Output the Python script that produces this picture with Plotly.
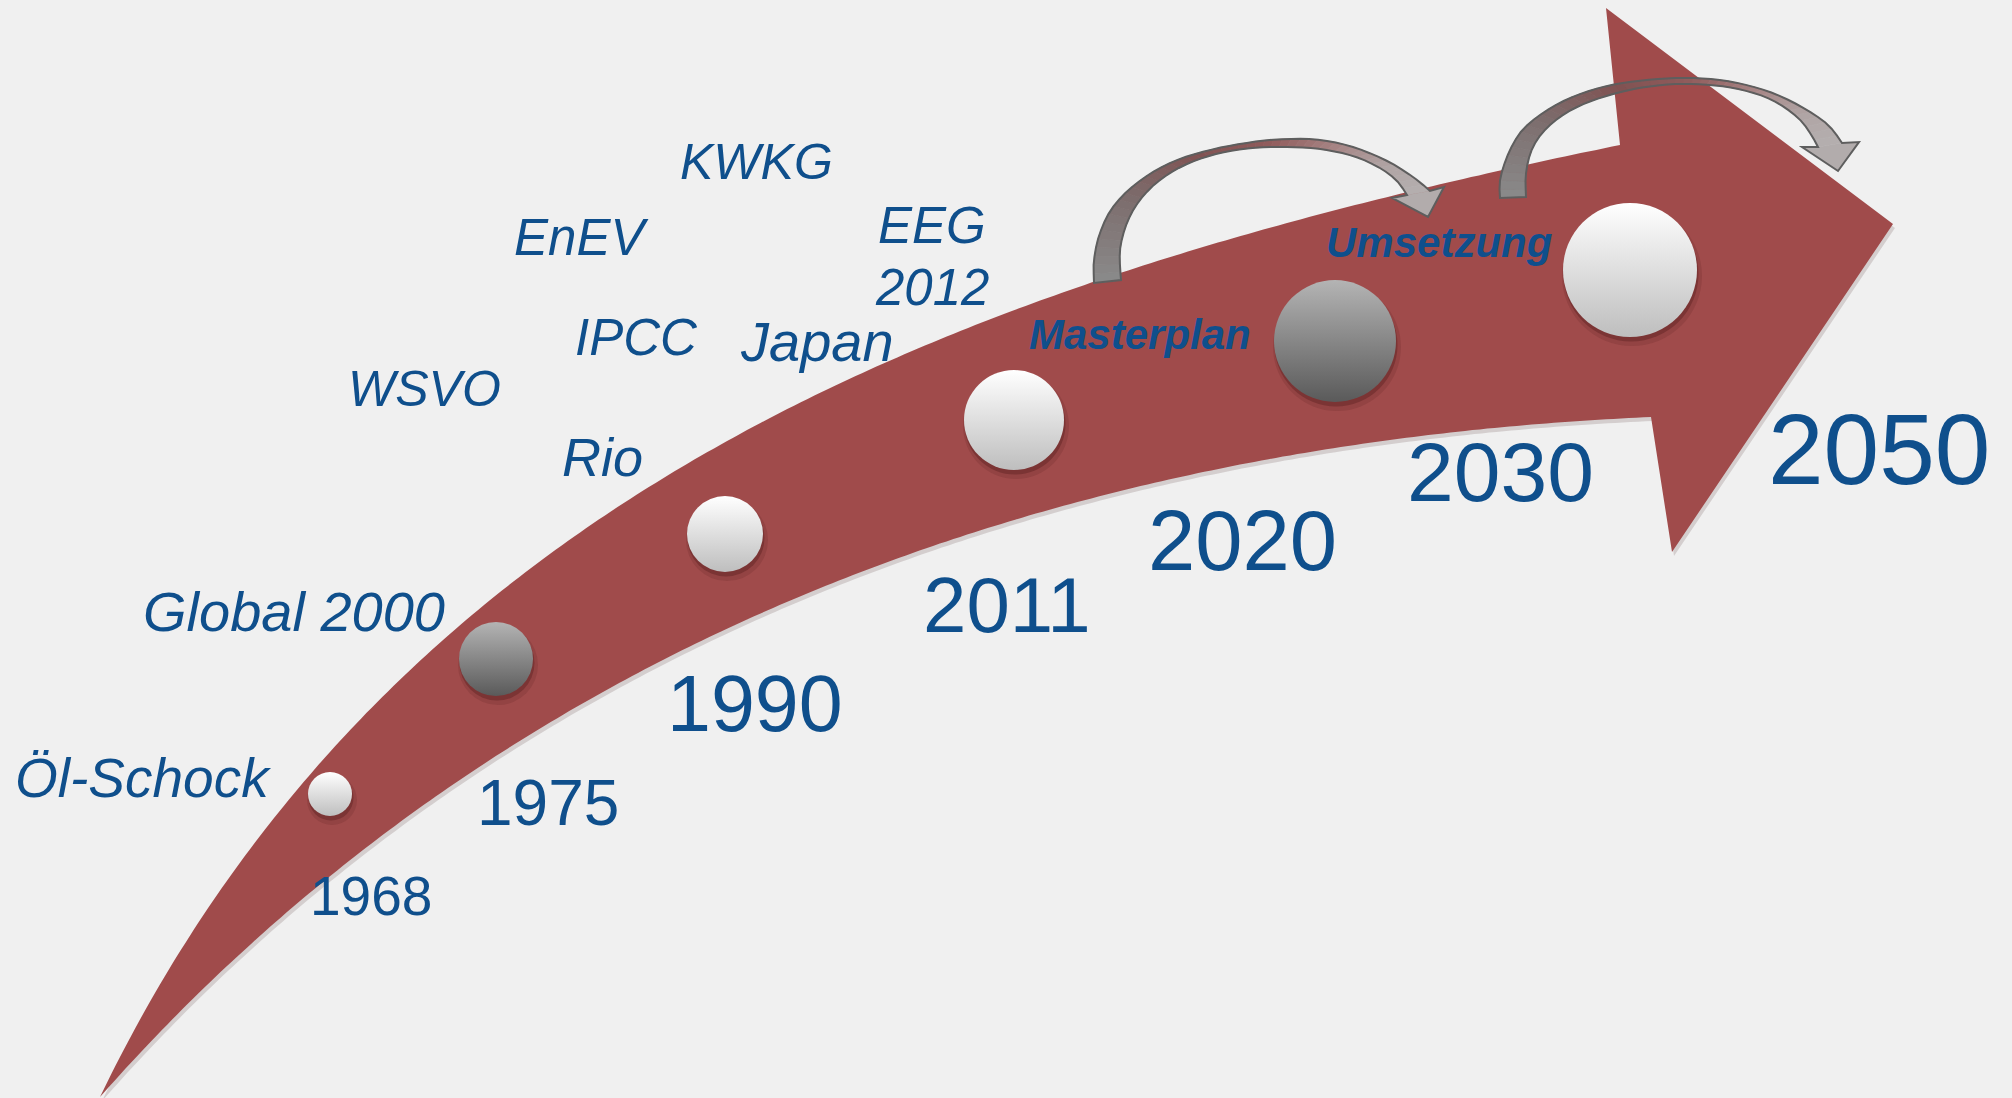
import numpy as np
import plotly.graph_objects as go

W, H = 2012, 1098
BG = "#F0F0F0"
BAND = "#A04B4B"
TEXT = "#0F4F8C"
FONT = "Liberation Sans, Arial, sans-serif"

# ---- timeline content ----
year_labels = ["1968", "1975", "1990", "2011", "2020", "2030", "2050"]
event_labels = ["Öl-Schock", "Global 2000", "WSVO", "Rio", "IPCC", "Japan",
                "EnEV", "KWKG", "EEG", "2012"]
phase_labels = ["Masterplan", "Umsetzung"]
milestone_years = ["1968", "1975", "1990", "2011", "2020", "2050"]
milestone_kind = ["light", "dark", "light", "light", "dark", "light"]

# ---- placement (pixel space, y grows downward) ----
year_pos = {"1968": (308, 896, 55), "1975": (475, 803, 64), "1990": (665, 703, 79),
            "2011": (921, 605, 78), "2020": (1146, 540, 85), "2030": (1405, 472, 84),
            "2050": (1766, 449, 100)}
event_pos = {"Öl-Schock": (13, 778, 55), "Global 2000": (141, 611, 56),
             "WSVO": (346, 389, 50), "Rio": (560, 457, 54), "IPCC": (573, 337, 51),
             "Japan": (738, 341, 56), "EnEV": (512, 237, 51), "KWKG": (678, 162, 50),
             "EEG": (876, 225, 51), "2012": (873, 287, 51)}
phase_pos = {"Masterplan": (1027, 334, 42), "Umsetzung": (1324, 242, 42)}
milestone_pos = {"1968": (330, 794, 22), "1975": (496, 659, 37), "1990": (725, 534, 38),
                 "2011": (1014, 420, 50), "2020": (1335, 341, 61), "2050": (1630, 270, 67)}
kind_colors = {"light": ("#FFFFFF", "#BEBEBE"), "dark": ("#B4B4B4", "#5A5A5A")}

# big sweeping arrow: edge samples (tail -> head) and the arrowhead corners
band_upper = [(100, 1097), (190, 950), (280, 808), (385, 703), (510, 583), (633, 490),
              (767, 413), (900, 356), (1000, 317), (1070, 292), (1203, 250), (1337, 213),
              (1470, 176), (1620, 145)]
band_lower = [(100, 1097), (215, 975), (347, 872), (480, 770), (580, 700), (733, 620),
              (867, 567), (1000, 528), (1203, 473), (1337, 450), (1470, 430), (1651, 417)]
band_head = [(1606, 8), (1893, 224), (1672, 552)]

# curved jump arrows: outer edge, inner edge (base -> head), head (outer wing, tip, inner wing)
jump_arrows = [
    dict(outer=[(1094, 283), (1094, 260), (1100, 233), (1113, 207), (1137, 183), (1170, 163),
                (1210, 150), (1253, 142), (1287, 139), (1320, 140), (1353, 147), (1387, 161),
                (1413, 177), (1430, 191)],
         inner=[(1121, 280), (1120, 250), (1127, 223), (1140, 200), (1160, 180), (1187, 164),
                (1220, 153), (1253, 148), (1287, 147), (1320, 149), (1353, 156), (1380, 168),
                (1397, 181), (1407, 195)],
         head=[(1444, 187), (1428, 217), (1392, 198)]),
    dict(outer=[(1500, 198), (1500, 180), (1507, 157), (1520, 133), (1540, 115), (1570, 98),
                (1607, 86), (1647, 80), (1687, 78), (1727, 81), (1767, 91), (1800, 106),
                (1827, 124), (1842, 143)],
         inner=[(1526, 197), (1526, 173), (1533, 147), (1550, 125), (1577, 107), (1613, 94),
                (1653, 86), (1693, 84), (1733, 88), (1770, 99), (1797, 117), (1810, 133),
                (1818, 147)],
         head=[(1859, 142), (1838, 171), (1802, 147)]),
]
jump_stops = [(0.0, (138, 138, 138)), (0.22, (124, 108, 108)), (0.42, (128, 82, 82)),
              (0.6, (145, 92, 92)), (0.76, (166, 132, 132)), (0.9, (176, 164, 164)),
              (1.0, (180, 175, 175))]


def spline(pts, n=14):
    pts = np.asarray(pts, float)
    P = np.vstack([pts[0], pts, pts[-1]])
    out = []
    for i in range(1, len(P) - 2):
        p0, p1, p2, p3 = P[i - 1], P[i], P[i + 1], P[i + 2]
        for t in np.linspace(0, 1, n, endpoint=False):
            out.append(0.5 * (2 * p1 + (-p0 + p2) * t + (2 * p0 - 5 * p1 + 4 * p2 - p3) * t * t
                              + (-p0 + 3 * p1 - 3 * p2 + p3) * t ** 3))
    out.append(P[-2])
    return np.array(out)


def bezier_eval(ctrl, t):
    t = np.asarray(t)[:, None]
    c0, c1, c2, c3 = ctrl
    return (1 - t) ** 3 * c0 + 3 * t * (1 - t) ** 2 * c1 + 3 * t ** 2 * (1 - t) * c2 + t ** 3 * c3


def fit_bezier(pts, iters=12):
    """Least-squares cubic through fixed end points, smoothing the edge samples."""
    P = np.asarray(pts, float)
    d = np.concatenate([[0], np.cumsum(np.hypot(*np.diff(P, axis=0).T))])
    t = d / d[-1]
    dense_t = np.linspace(0, 1, 3000)
    for _ in range(iters):
        A = np.column_stack([3 * t * (1 - t) ** 2, 3 * t ** 2 * (1 - t)])
        R = P - np.outer((1 - t) ** 3, P[0]) - np.outer(t ** 3, P[-1])
        C, *_ = np.linalg.lstsq(A, R, rcond=None)
        ctrl = [P[0], C[0], C[1], P[-1]]
        dense = bezier_eval(ctrl, dense_t)
        t = np.array([dense_t[np.argmin(np.hypot(*(dense - p).T))] for p in P])
        t[0], t[-1] = 0.0, 1.0
    return ctrl


def resample(poly, m):
    seg = np.hypot(*np.diff(poly, axis=0).T)
    s = np.concatenate([[0], np.cumsum(seg)])
    u = np.linspace(0, s[-1], m + 1)
    return np.column_stack([np.interp(u, s, poly[:, 0]), np.interp(u, s, poly[:, 1])])


def to_path(pts, close=True):
    p = "M " + " L ".join(f"{x:.1f},{y:.1f}" for x, y in pts)
    return p + (" Z" if close else "")


def mix(t):
    for (t0, c0), (t1, c1) in zip(jump_stops[:-1], jump_stops[1:]):
        if t <= t1:
            f = (t - t0) / (t1 - t0)
            c = [round(a + (b - a) * f) for a, b in zip(c0, c1)]
            return f"rgb({c[0]},{c[1]},{c[2]})"
    c = jump_stops[-1][1]
    return f"rgb({c[0]},{c[1]},{c[2]})"


shapes = []

# band outline from two smooth cubic edges
ts = np.linspace(0, 1, 240)
up = bezier_eval(fit_bezier(band_upper), ts)
lo = bezier_eval(fit_bezier(band_lower), ts)
band_pts = list(map(tuple, up)) + band_head + list(map(tuple, lo[::-1]))
shadow_pts = [(x + 2, y + 4) for x, y in band_pts]
shapes.append(dict(type="path", path=to_path(shadow_pts), fillcolor="rgba(40,0,0,0.14)",
                   line=dict(width=0), layer="below", xref="x", yref="y"))
shapes.append(dict(type="path", path=to_path(band_pts), fillcolor=BAND,
                   line=dict(width=0), layer="below", xref="x", yref="y"))

# curved jump arrows with a colour ramp along their length
for arr in jump_arrows:
    m = 48
    o = resample(spline(arr["outer"]), m)
    i = resample(spline(arr["inner"]), m)
    for k in range(m):
        col = mix((k + 0.5) / m)
        quad = [tuple(o[k]), tuple(o[k + 1]), tuple(i[k + 1]), tuple(i[k])]
        shapes.append(dict(type="path", path=to_path(quad), fillcolor=col,
                           line=dict(color=col, width=0.8), layer="below", xref="x", yref="y"))
    wing_o, tip, wing_i = arr["head"]
    head = [tuple(o[-1]), wing_o, tip, wing_i, tuple(i[-1])]
    shapes.append(dict(type="path", path=to_path(head), fillcolor="rgb(178,172,172)",
                       line=dict(width=0), layer="below", xref="x", yref="y"))
    outline = list(map(tuple, o)) + [wing_o, tip, wing_i] + list(map(tuple, i[::-1]))
    shapes.append(dict(type="path", path=to_path(outline), fillcolor="rgba(0,0,0,0)",
                       line=dict(color="#5E5E5E", width=2), layer="below", xref="x", yref="y"))

fig = go.Figure()

# milestone discs with a soft drop shadow
mx = [milestone_pos[y][0] for y in milestone_years]
my = [milestone_pos[y][1] for y in milestone_years]
md = [2 * milestone_pos[y][2] for y in milestone_years]
fig.add_trace(go.Scatter(x=[v + 2 for v in mx], y=[v + 6 for v in my], mode="markers",
                         marker=dict(size=[d + 6 for d in md], color="rgba(60,15,15,0.13)",
                                     opacity=1, line=dict(width=0)),
                         hoverinfo="skip", showlegend=False))
fig.add_trace(go.Scatter(x=[v + 1 for v in mx], y=[v + 4 for v in my], mode="markers",
                         marker=dict(size=[d + 1 for d in md], color="rgba(60,15,15,0.28)",
                                     opacity=1, line=dict(width=0)),
                         hoverinfo="skip", showlegend=False))
fig.add_trace(go.Scatter(
    x=mx, y=my, mode="markers",
    marker=dict(size=md, opacity=1, color=[kind_colors[k][0] for k in milestone_kind],
                gradient=dict(type="vertical", color=[kind_colors[k][1] for k in milestone_kind]),
                line=dict(width=0)),
    hoverinfo="skip", showlegend=False))

annotations = []
for lab in year_labels:
    x, y, s = year_pos[lab]
    annotations.append(dict(x=x, y=y, text=lab, showarrow=False, xanchor="left", yanchor="middle",
                            font=dict(family=FONT, size=s, color=TEXT)))
for lab in event_labels:
    x, y, s = event_pos[lab]
    annotations.append(dict(x=x, y=y, text=lab, showarrow=False, xanchor="left", yanchor="middle",
                            font=dict(family=FONT, size=s, color=TEXT, style="italic")))
for lab in phase_labels:
    x, y, s = phase_pos[lab]
    annotations.append(dict(x=x, y=y, text=lab, showarrow=False, xanchor="left", yanchor="middle",
                            font=dict(family=FONT, size=s, color=TEXT, style="italic",
                                      weight="bold")))

fig.update_layout(
    width=W, height=H, margin=dict(l=0, r=0, t=0, b=0),
    paper_bgcolor=BG, plot_bgcolor=BG, showlegend=False,
    xaxis=dict(range=[0, W], visible=False, fixedrange=True),
    yaxis=dict(range=[H, 0], visible=False, fixedrange=True),
    shapes=shapes, annotations=annotations,
)

fig.write_html("out.html", config=dict(displayModeBar=False))
